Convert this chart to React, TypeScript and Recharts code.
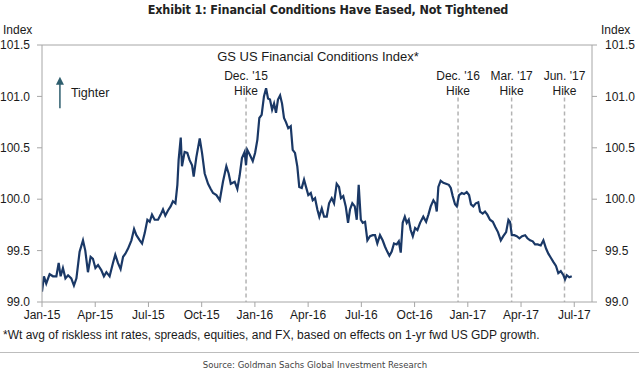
import React from "react";
import { LineChart, Line, XAxis, YAxis, ReferenceLine } from "recharts";

// months since Jan-2015
const months = [
  0.0, 0.11, 0.24, 0.43, 0.62, 0.81, 0.94, 1.05, 1.18, 1.32, 1.47, 1.65, 1.8, 1.94,
  2.12, 2.31, 2.44, 2.59, 2.74, 2.87, 3.01, 3.16, 3.34, 3.49, 3.63, 3.81, 4.0, 4.13,
  4.28, 4.43, 4.57, 4.7, 4.85, 5.04, 5.19, 5.32, 5.51, 5.64, 5.79, 5.94, 6.07, 6.2,
  6.35, 6.54, 6.69, 6.82, 6.95, 7.1, 7.25, 7.38, 7.52, 7.63, 7.7, 7.82, 7.89, 8.04,
  8.19, 8.32, 8.46, 8.55, 8.7, 8.89, 9.02, 9.17, 9.36, 9.51, 9.64, 9.83, 10.02, 10.2,
  10.39, 10.52, 10.64, 10.86, 11.01, 11.14, 11.27, 11.42, 11.5, 11.57, 11.72, 11.88,
  12.01, 12.14, 12.25, 12.38, 12.51, 12.63, 12.74, 12.85, 12.97, 13.08, 13.19, 13.3,
  13.42, 13.53, 13.64, 13.75, 13.88, 14.02, 14.13, 14.26, 14.39, 14.5, 14.64, 14.77,
  14.88, 15.01, 15.15, 15.26, 15.39, 15.52, 15.63, 15.77, 15.9, 16.05, 16.18, 16.33,
  16.46, 16.61, 16.74, 16.85, 16.98, 17.12, 17.25, 17.36, 17.49, 17.63, 17.74, 17.85,
  17.97, 18.08, 18.21, 18.34, 18.49, 18.64, 18.77, 18.9, 19.05, 19.2, 19.33, 19.46,
  19.58, 19.71, 19.84, 19.99, 20.11, 20.22, 20.33, 20.45, 20.56, 20.67, 20.78, 20.9,
  21.03, 21.16, 21.31, 21.49, 21.65, 21.78, 21.91, 22.06, 22.17, 22.25, 22.34, 22.47,
  22.62, 22.77, 22.93, 23.04, 23.15, 23.28, 23.38, 23.51, 23.66, 23.79, 23.94, 24.07,
  24.18, 24.31, 24.45, 24.59, 24.69, 24.84, 24.97, 25.1, 25.25, 25.41, 25.55, 25.7,
  25.86, 26.0, 26.16, 26.29, 26.38, 26.48, 26.62, 26.76, 26.91, 27.06, 27.23, 27.36,
  27.51, 27.66, 27.79, 27.94, 28.11, 28.26, 28.41, 28.54, 28.68, 28.82, 28.97, 29.1,
  29.24, 29.39, 29.48, 29.58, 29.72, 29.86,
];

const fci = [
  99.1, 99.25, 99.18, 99.27, 99.25, 99.25, 99.38, 99.25, 99.33, 99.23, 99.26, 99.23, 99.16, 99.23,
  99.49, 99.6, 99.5, 99.29, 99.44, 99.42, 99.33, 99.36, 99.31, 99.25, 99.29, 99.25, 99.38, 99.46,
  99.38, 99.32, 99.44, 99.47, 99.52, 99.6, 99.71, 99.65, 99.6, 99.57, 99.67, 99.8, 99.78, 99.85,
  99.8, 99.8, 99.85, 99.9, 99.84, 99.89, 99.93, 99.98, 99.96, 100.14, 100.38, 100.6, 100.32, 100.46,
  100.45, 100.38, 100.33, 100.22, 100.41, 100.59, 100.45, 100.25, 100.15, 100.1, 100.06, 100.04, 99.99, 100.17,
  100.32, 100.25, 100.15, 100.17, 100.1, 100.23, 100.4, 100.46, 100.33, 100.48, 100.43, 100.37,
  100.45, 100.58, 100.79, 100.82, 101.0, 101.08, 100.98, 100.97, 100.87, 100.93, 100.84, 100.97,
  101.01, 100.93, 100.79, 100.75, 100.69, 100.71, 100.48, 100.45, 100.32, 100.12, 100.11, 100.19,
  100.12, 100.04, 100.06, 99.99, 100.01, 99.9, 99.83, 99.91, 99.83, 99.83, 99.96, 100.01,
  99.96, 100.15, 100.12, 100.01, 100.03, 99.93, 99.77, 99.9, 99.96, 99.93, 99.8, 100.14,
  99.8, 99.77, 99.78, 99.6, 99.64, 99.65, 99.65, 99.57, 99.65, 99.6, 99.54, 99.49,
  99.45, 99.49, 99.57, 99.56, 99.59, 99.48, 99.77, 99.83, 99.77, 99.8, 99.7, 99.64,
  99.72, 99.7, 99.77, 99.83, 99.78, 99.85, 99.93, 99.99, 99.96, 99.88, 100.12, 100.18,
  100.16, 100.15, 100.14, 100.11, 100.03, 99.95, 99.93, 100.04, 100.06, 100.05, 100.07, 100.04,
  99.95, 99.93, 99.96, 99.97, 99.88, 99.86, 99.88, 99.85, 99.8, 99.78, 99.73, 99.68,
  99.6, 99.64, 99.68, 99.8, 99.78, 99.65, 99.65, 99.64, 99.62, 99.64, 99.65, 99.62,
  99.6, 99.59, 99.56, 99.56, 99.55, 99.6, 99.52, 99.47, 99.43, 99.39, 99.35, 99.28,
  99.3, 99.26, 99.22, 99.26, 99.24, 99.25,
];

const tickMonths = [0, 3, 6, 9, 12, 15, 18, 21, 24, 27, 30];
const tickLabels = [
  "Jan-15", "Apr-15", "Jul-15", "Oct-15", "Jan-16", "Apr-16",
  "Jul-16", "Oct-16", "Jan-17", "Apr-17", "Jul-17",
];
const yTicks = [99, 99.5, 100, 100.5, 101, 101.5];
const hikeMonths = [11.5, 23.45, 26.47, 29.45];
const hikeLabels = ["Dec. '15", "Dec. '16", "Mar. '17", "Jun. '17"];
const hikeTop = 100.99;
const arrowMonth = 1.01;
const arrowFrom = 100.885;
const arrowTo = 101.19;

const data = months.map((m, i) => ({ m, v: fci[i] }));

const FONT = "'Liberation Sans', Arial, Helvetica, sans-serif";
const NARROW = "'Liberation Sans Narrow', 'Arial Narrow', 'DejaVu Sans Condensed', sans-serif";

const makeHikeShape = (label: string) => (props: any) => {
  const { x1, y1, x2, y2 } = props;
  const top = Math.min(y1, y2);
  return (
    <g>
      <line x1={x1} y1={y1} x2={x2} y2={y2} stroke="#b3b3b3" strokeWidth={1.5} strokeDasharray="4 3" />
      <text x={x1} y={top - 17} textAnchor="middle" fontSize={12} fontFamily={FONT} fill="#1a1a1a">
        {label}
      </text>
      <text x={x1} y={top - 2} textAnchor="middle" fontSize={12} fontFamily={FONT} fill="#1a1a1a">
        Hike
      </text>
    </g>
  );
};

const arrowShape = (props: any) => {
  const { x1, y1, x2, y2 } = props;
  const bottom = Math.max(y1, y2);
  const tip = Math.min(y1, y2);
  return (
    <g>
      <line x1={x1} y1={bottom} x2={x2} y2={tip + 6} stroke="#2e5e6e" strokeWidth={1.5} />
      <polygon points={`${x1 - 4},${tip + 8} ${x1 + 4},${tip + 8} ${x1},${tip}`} fill="#2e5e6e" />
      <text x={x1 + 11} y={(bottom + tip) / 2 + 4} fontSize={12.5} fontFamily={FONT} fill="#1a1a1a">
        Tighter
      </text>
    </g>
  );
};

export default function App() {
  const txt: React.CSSProperties = { position: "absolute", whiteSpace: "nowrap", color: "#1a1a1a", fontFamily: FONT, lineHeight: 1.15 };
  return (
    <div style={{ position: "relative", width: 639, height: 374, background: "#fff", overflow: "hidden" }}>
      <style>{"body{margin:0;}"}</style>
      <div style={{ ...txt, left: 0, width: 656, top: 3, textAlign: "center", fontFamily: NARROW, fontWeight: "bold", fontSize: 12.5, letterSpacing: -0.15, color: "#222" }}>
        Exhibit 1: Financial Conditions Have Eased, Not Tightened
      </div>
      <div style={{ ...txt, left: 3, top: 24, fontSize: 12 }}>Index</div>
      <div style={{ ...txt, left: 601, top: 24, fontSize: 12 }}>Index</div>
      <div style={{ ...txt, left: 0, width: 636, top: 50, textAlign: "center", fontSize: 13 }}>
        GS US Financial Conditions Index*
      </div>
      <div style={{ ...txt, left: 3, top: 329, fontSize: 12 }}>
        *Wt avg of riskless int rates, spreads, equities, and FX, based on effects on 1-yr fwd US GDP growth.
      </div>
      <div style={{ position: "absolute", left: 0, width: 639, top: 352, height: 1, background: "#bdbdbd" }} />
      <div style={{ ...txt, left: 0, width: 630, top: 360, textAlign: "center", fontFamily: NARROW, fontSize: 9.5, color: "#444" }}>
        Source: Goldman Sachs Global Investment Research
      </div>
      <div style={{ position: "absolute", left: 0, top: 0 }}>
        <LineChart width={639} height={374} data={data} margin={{ top: 45, right: 0, bottom: 47, left: 0 }}>
          <XAxis
            dataKey="m"
            type="number"
            domain={[0, 31]}
            ticks={tickMonths}
            tickFormatter={(v: number) => tickLabels[tickMonths.indexOf(v)] ?? ""}
            height={25}
            stroke="#a6a6a6"
            tickSize={5}
            tickMargin={3}
            tick={{ fill: "#1a1a1a", fontSize: 12, fontFamily: FONT }}
            interval={0}
            allowDataOverflow
          />
          <YAxis
            yAxisId="left"
            domain={[99, 101.5]}
            ticks={yTicks}
            tickFormatter={(v: number) => v.toFixed(1)}
            width={42}
            stroke="#a6a6a6"
            tickSize={5}
            tickMargin={7}
            tick={{ fill: "#1a1a1a", fontSize: 12, fontFamily: FONT }}
            interval={0}
            allowDataOverflow
          />
          <YAxis
            yAxisId="right"
            orientation="right"
            domain={[99, 101.5]}
            ticks={yTicks}
            tickFormatter={(v: number) => v.toFixed(1)}
            width={47}
            stroke="#a6a6a6"
            tickSize={5}
            tickMargin={8}
            tick={{ fill: "#1a1a1a", fontSize: 12, fontFamily: FONT }}
            interval={0}
            allowDataOverflow
          />
          <ReferenceLine yAxisId="left" y={101.5} stroke="#a6a6a6" strokeWidth={1} />
          {hikeMonths.map((hm, i) => (
            <ReferenceLine
              key={hikeLabels[i]}
              yAxisId="left"
              segment={[{ x: hm, y: hikeTop }, { x: hm, y: 99 }]}
              shape={makeHikeShape(hikeLabels[i])}
            />
          ))}
          <ReferenceLine
            yAxisId="left"
            segment={[{ x: arrowMonth, y: arrowFrom }, { x: arrowMonth, y: arrowTo }]}
            shape={arrowShape}
          />
          <Line
            yAxisId="left"
            type="linear"
            dataKey="v"
            stroke="#1a3866"
            strokeWidth={2.2}
            dot={false}
            isAnimationActive={false}
          />
        </LineChart>
      </div>
    </div>
  );
}
